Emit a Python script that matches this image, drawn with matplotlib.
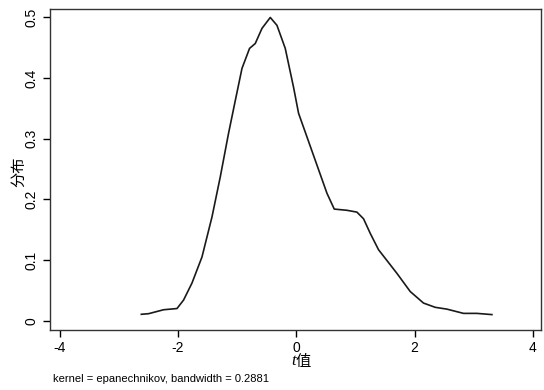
import matplotlib.pyplot as plt

plt.rcParams['font.family'] = ['Liberation Sans', 'DejaVu Sans']
cjk = ['Noto Sans CJK SC', 'Liberation Sans']

# kernel density estimate
t_vals = [-2.618, -2.495, -2.242, -2.015, -1.904, -1.762, -1.593, -1.424, -1.284,
          -1.144, -1.030, -0.917, -0.789, -0.693, -0.579, -0.439, -0.326, -0.186,
          -0.046, 0.039, 0.519, 0.642, 0.856, 1.025, 1.137, 1.250, 1.390, 1.701,
          1.926, 2.150, 2.348, 2.546, 2.826, 3.052, 3.306]
density = [0.0105, 0.0115, 0.018, 0.020, 0.034, 0.062, 0.105, 0.171, 0.237,
           0.309, 0.363, 0.416, 0.449, 0.457, 0.482, 0.500, 0.487, 0.449,
           0.385, 0.342, 0.210, 0.184, 0.182, 0.179, 0.168, 0.144, 0.117, 0.078,
           0.048, 0.029, 0.022, 0.019, 0.012, 0.012, 0.010]

x_ticks = [-4, -2, 0, 2, 4]
y_ticks = [0, 0.1, 0.2, 0.3, 0.4, 0.5]
note = "kernel = epanechnikov, bandwidth = 0.2881"

fig = plt.figure(figsize=(5.44, 3.9), dpi=100)
ax = fig.add_axes([0.092, 0.154, 0.903, 0.823])

ax.plot(t_vals, density, color='#1a1a1a', lw=1.2)

ax.set_xlim(-4.16, 4.14)
ax.set_ylim(-0.0153, 0.514)
ax.set_xticks(x_ticks)
ax.set_xticklabels([str(v) for v in x_ticks])
ax.set_yticks(y_ticks)
ax.set_yticklabels(['0', '0.1', '0.2', '0.3', '0.4', '0.5'], rotation=90, va='center')
ax.tick_params(direction='out', length=5, width=1, labelsize=10, pad=3)

for s in ax.spines.values():
    s.set_color('#333333')
    s.set_linewidth(1.0)

# x label: italic t followed by 值
ax.text(0.5, -0.098, 't', transform=ax.transAxes, fontsize=12, style='italic',
        ha='right', va='center', family='Liberation Serif')
ax.text(0.5, -0.098, '值', transform=ax.transAxes, fontsize=11,
        ha='left', va='center', family=cjk)
ax.set_ylabel('分布', fontsize=11, family=cjk)
ax.yaxis.set_label_coords(-0.047, 0.494)

fig.text(53 / 544, 1 - 379 / 390, note, fontsize=8, va='center', ha='left')

fig.savefig('out.png', dpi=100)
